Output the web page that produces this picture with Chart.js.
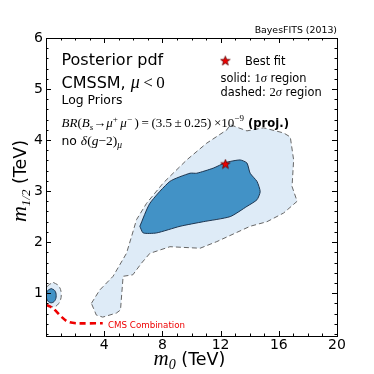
<!DOCTYPE html>
<html>
<head>
<meta charset="utf-8">
<script src="https://cdn.jsdelivr.net/npm/chart.js@4.4.1/dist/chart.umd.min.js"></script>
<style>
  html, body { margin: 0; padding: 0; background: #fff; }
  #wrap { width: 374px; height: 374px; }
</style>
</head>
<body>
<div id="wrap"><canvas id="myChart"></canvas></div>
<script>
// axis ticks
var xTicks = [4, 8, 12, 16, 20];
var yTicks = [1, 2, 3, 4, 5, 6];

// 2 sigma region (dashed)
var sigma2X = [3.12, 3.69, 4.61, 5.53, 5.88, 6.22, 6.91, 8.06, 9.67, 11.05, 12.43, 12.66, 13.81, 14.95, 16.33, 16.79, 17.02, 16.91, 17.26, 16.33, 15.19, 14.03, 11.74, 10.59, 8.52, 7.14, 6.57, 5.97, 5.30, 5.12, 4.84, 3.90, 3.46, 3.12];
var sigma2Y = [0.80, 1.06, 1.33, 1.78, 2.11, 2.44, 2.76, 3.16, 3.61, 3.94, 4.20, 4.30, 4.18, 4.24, 4.14, 4.06, 3.61, 3.09, 2.80, 2.57, 2.40, 2.31, 2.01, 1.88, 1.91, 1.78, 1.59, 1.36, 1.33, 0.67, 0.61, 0.53, 0.57, 0.80];

// 1 sigma region (solid)
var sigma1X = [6.45, 7.14, 8.52, 9.90, 10.36, 11.50, 12.36, 13.34, 13.81, 14.03, 14.50, 14.72, 14.50, 13.81, 12.66, 10.81, 9.21, 7.60, 6.68, 6.45];
var sigma1Y = [2.31, 2.76, 3.19, 3.35, 3.35, 3.45, 3.56, 3.61, 3.55, 3.35, 3.19, 2.99, 2.83, 2.70, 2.50, 2.40, 2.31, 2.18, 2.18, 2.31];

// small island at low m0
var islandOutX = [0.50, 0.88, 1.05, 0.88, 0.50, 0.12, -0.05, 0.12, 0.50];
var islandOutY = [1.21, 1.14, 0.97, 0.80, 0.73, 0.80, 0.97, 1.14, 1.21];
var islandInX = [0.36, 0.60, 0.70, 0.60, 0.36, 0.12, 0.02, 0.12, 0.36];
var islandInY = [1.09, 1.05, 0.95, 0.85, 0.81, 0.85, 0.95, 1.05, 1.09];

// CMS combination limit
var cmsX = [0.0, 0.45, 1.05, 1.50, 2.08, 3.90];
var cmsY = [0.77, 0.71, 0.54, 0.44, 0.41, 0.41];

var bestFitX = [12.33];
var bestFitY = [3.53];

function pts(xs, ys) {
    return xs.map(function (x, i) { return { x: x, y: ys[i] }; });
}

// red filled star marker
var star = document.createElement('canvas');
star.width = 11; star.height = 11;
(function () {
    var c = star.getContext('2d');
    c.beginPath();
    for (var i = 0; i < 10; i++) {
        var r = i % 2 === 0 ? 5 : 2.1;
        var a = -Math.PI / 2 + i * Math.PI / 5;
        c.lineTo(5.5 + r * Math.cos(a), 5.8 + r * Math.sin(a));
    }
    c.closePath();
    c.fillStyle = '#ee0000';
    c.fill();
    c.lineWidth = 0.7;
    c.strokeStyle = '#550000';
    c.stroke();
})();

var SANS = '"DejaVu Sans"';
var SERIF = '"Liberation Serif"';

function drawRuns(ctx, x, y, parts, align) {
    var w = 0;
    parts.forEach(function (p) { ctx.font = p[1]; w += ctx.measureText(p[0]).width; });
    if (align === 'center') x -= w / 2;
    if (align === 'right') x -= w;
    ctx.textAlign = 'left';
    ctx.textBaseline = 'alphabetic';
    parts.forEach(function (p) {
        ctx.font = p[1];
        ctx.fillStyle = p[3] || '#000';
        ctx.fillText(p[0], x, y + (p[2] || 0));
        x += ctx.measureText(p[0]).width;
    });
    return w;
}

var decor = {
    id: 'decor',
    afterDatasetsDraw: function (chart) {
        var ctx = chart.ctx, a = chart.chartArea;
        var sx = chart.scales.x, sy = chart.scales.y;
        ctx.save();
        ctx.strokeStyle = '#000';
        ctx.lineWidth = 1;
        ctx.beginPath();
        // inward ticks on all sides
        for (var v = 1; v < 20; v++) {
            var px = Math.round(sx.getPixelForValue(v)) + 0.5;
            var len = v % 4 === 0 ? 5 : 2.5;
            ctx.moveTo(px, a.bottom); ctx.lineTo(px, a.bottom - len);
            ctx.moveTo(px, a.top); ctx.lineTo(px, a.top + len);
        }
        for (var k = 1; k < 30; k++) {
            var val = k * 0.2;
            if (val < sy.min) continue;
            var py = Math.round(sy.getPixelForValue(val)) + 0.5;
            var l2 = k % 5 === 0 ? 5 : 2.5;
            ctx.moveTo(a.left, py); ctx.lineTo(a.left + l2, py);
            ctx.moveTo(a.right, py); ctx.lineTo(a.right - l2, py);
        }
        ctx.stroke();
        ctx.strokeRect(Math.round(a.left) + 0.5, Math.round(a.top) + 0.5,
            Math.round(a.right - a.left), Math.round(a.bottom - a.top));

        // axis titles
        drawRuns(ctx, (a.left + a.right) / 2 - 2, 365, [
            ['m', 'italic 21px ' + SERIF],
            ['0', 'italic 14px ' + SERIF, 4],
            [' (TeV)', '17.5px ' + SANS]
        ], 'center');
        ctx.save();
        ctx.translate(26, 181);
        ctx.rotate(-Math.PI / 2);
        drawRuns(ctx, 0, 0, [
            ['m', 'italic 22px ' + SERIF],
            ['1/2', 'italic 13px ' + SERIF, 4],
            [' (TeV)', '17.5px ' + SANS]
        ], 'center');
        ctx.restore();

        // header
        drawRuns(ctx, 337, 33, [['BayesFITS (2013)', '9.4px ' + SANS]], 'right');

        // left annotations
        var L = 61.5;
        drawRuns(ctx, L, 65, [['Posterior pdf', '16px ' + SANS]]);
        drawRuns(ctx, L, 88, [
            ['CMSSM, ', '16px ' + SANS],
            ['\u03bc', 'italic 18px ' + SERIF],
            ['\u2009<\u20090', '17px ' + SERIF]
        ]);
        drawRuns(ctx, L, 104, [['Log Priors', '12.4px ' + SANS]]);
        drawRuns(ctx, L, 127, [
            ['BR', 'italic 13px ' + SERIF],
            ['(', '13px ' + SERIF],
            ['B', 'italic 13px ' + SERIF],
            ['s', 'italic 9px ' + SERIF, 3],
            ['\u2192', '13px ' + SERIF],
            ['\u03bc', 'italic 13px ' + SERIF],
            ['+', '9px ' + SERIF, -5],
            ['\u2009\u03bc', 'italic 13px ' + SERIF],
            ['\u2212', '9px ' + SERIF, -5],
            ['\u2009)\u2009=\u2009(3.5\u2009\u00b1\u20090.25)\u2009\u00d710', '13px ' + SERIF],
            ['\u22129', '9px ' + SERIF, -6],
            [' (proj.)', 'bold 11.6px ' + SANS]
        ]);
        drawRuns(ctx, L, 145, [
            ['no ', '12.4px ' + SANS],
            ['\u03b4', 'italic 13.5px ' + SERIF],
            ['(', '13.5px ' + SERIF],
            ['g', 'italic 13.5px ' + SERIF],
            ['\u22122)', '13.5px ' + SERIF],
            ['\u03bc', 'italic 9.5px ' + SERIF, 3]
        ]);

        // legend
        ctx.drawImage(star, 225.3 - 5.5, 61 - 5.8);
        drawRuns(ctx, 245, 64.5, [['Best fit', '11.4px ' + SANS]]);
        drawRuns(ctx, 220.5, 81.5, [
            ['solid: ', '11.4px ' + SANS],
            ['1', '12.5px ' + SERIF],
            ['\u03c3', 'italic 12.5px ' + SERIF],
            [' region', '11.4px ' + SANS]
        ]);
        drawRuns(ctx, 220.5, 96, [
            ['dashed: ', '11.4px ' + SANS],
            ['2', '12.5px ' + SERIF],
            ['\u03c3', 'italic 12.5px ' + SERIF],
            [' region', '11.4px ' + SANS]
        ]);

        // CMS label
        drawRuns(ctx, 108, 327.5, [['CMS Combination', '8.7px ' + SANS, 0, '#ee0000']]);
        ctx.restore();
    }
};

new Chart("myChart", {
    type: "scatter",
    data: {
        datasets: [{
            label: "2 sigma",
            data: pts(sigma2X, sigma2Y),
            showLine: true,
            fill: 'shape',
            backgroundColor: '#deebf7',
            borderColor: '#666666',
            borderWidth: 1,
            borderDash: [5, 3],
            pointRadius: 0,
            order: 6
        }, {
            label: "island 2 sigma",
            data: pts(islandOutX, islandOutY),
            showLine: true,
            fill: 'shape',
            tension: 0.4,
            backgroundColor: '#deebf7',
            borderColor: '#666666',
            borderWidth: 1,
            borderDash: [5, 3],
            pointRadius: 0,
            order: 5
        }, {
            label: "1 sigma",
            data: pts(sigma1X, sigma1Y),
            showLine: true,
            fill: 'shape',
            tension: 0.2,
            backgroundColor: '#4292c6',
            borderColor: '#1d3550',
            borderWidth: 1,
            pointRadius: 0,
            order: 4
        }, {
            label: "island 1 sigma",
            data: pts(islandInX, islandInY),
            showLine: true,
            fill: 'shape',
            tension: 0.4,
            backgroundColor: '#4292c6',
            borderColor: '#1d3550',
            borderWidth: 1,
            pointRadius: 0,
            order: 3
        }, {
            label: "CMS Combination",
            data: pts(cmsX, cmsY),
            showLine: true,
            fill: false,
            tension: 0.3,
            borderColor: '#ee0000',
            borderWidth: 2.6,
            borderDash: [6, 4],
            pointRadius: 0,
            order: 2
        }, {
            label: "Best fit",
            data: pts(bestFitX, bestFitY),
            pointStyle: star,
            order: 1
        }]
    },
    plugins: [decor],
    options: {
        maintainAspectRatio: false,
        animation: false,
        events: [],
        layout: { padding: { top: 38, right: 37, left: 0, bottom: 0 } },
        plugins: {
            legend: { display: false },
            tooltip: { enabled: false }
        },
        scales: {
            x: {
                type: 'linear',
                min: 0,
                max: 20,
                afterBuildTicks: function (s) { s.ticks = xTicks.map(function (v) { return { value: v }; }); },
                afterFit: function (s) { s.height = 38; },
                ticks: { color: '#000', font: { family: 'DejaVu Sans', size: 14 }, padding: 1, maxRotation: 0 },
                grid: { display: false, drawTicks: false },
                border: { display: false }
            },
            y: {
                type: 'linear',
                min: 0.16,
                max: 6,
                afterBuildTicks: function (s) { s.ticks = yTicks.map(function (v) { return { value: v }; }); },
                afterFit: function (s) { s.width = 46; },
                ticks: { color: '#000', font: { family: 'DejaVu Sans', size: 14 }, padding: 3 },
                grid: { display: false, drawTicks: false },
                border: { display: false }
            }
        }
    }
});
</script>
</body>
</html>
